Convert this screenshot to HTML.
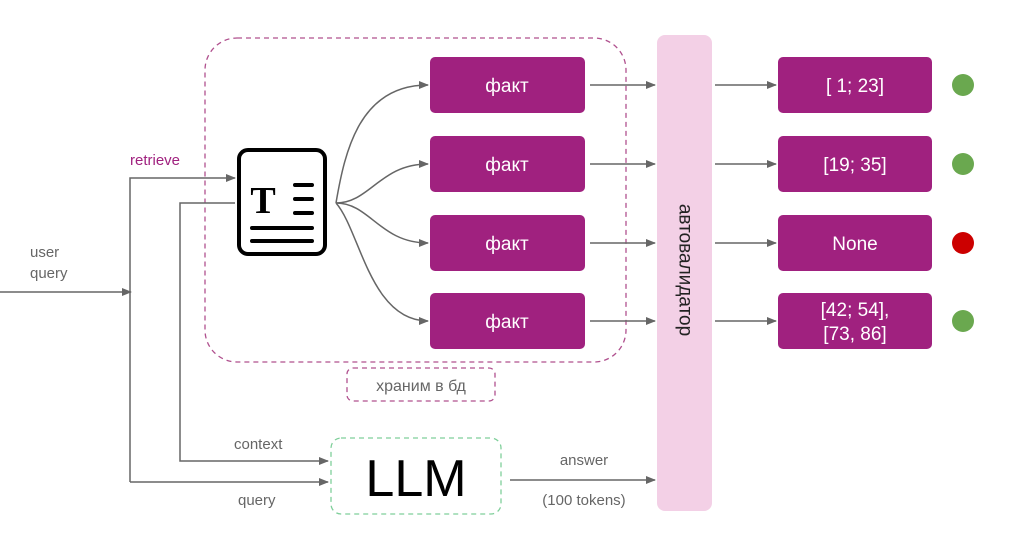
<!DOCTYPE html>
<html><head><meta charset="utf-8"><style>
body{margin:0;background:#fff;width:1028px;height:554px;overflow:hidden;font-family:"Liberation Sans","DejaVu Sans",sans-serif}
</style></head><body>
<svg width="1028" height="554" viewBox="0 0 1028 554" xmlns="http://www.w3.org/2000/svg">
<defs><marker id="a" markerWidth="10" markerHeight="8" refX="9" refY="4" orient="auto" markerUnits="userSpaceOnUse"><path d="M0,0 L10,4 L0,8z" fill="#666"/></marker></defs>
<rect x="205" y="38" width="421" height="324" rx="32" fill="none" stroke="#b0508e" stroke-width="1.3" stroke-dasharray="5,4"/>
<rect x="347" y="368" width="148" height="33" rx="6" fill="none" stroke="#b0508e" stroke-width="1.3" stroke-dasharray="5,4"/>
<text x="421" y="391" font-size="16" fill="#666" text-anchor="middle">храним в бд</text>
<rect x="657" y="35" width="55" height="476" rx="8" fill="#f3d0e6"/>
<text x="684.5" y="270" font-size="19" fill="#222" text-anchor="middle" transform="rotate(90 684.5 270)" dominant-baseline="middle">автовалидатор</text>
<g fill="#a0217f">
<rect x="430" y="57" width="155" height="56" rx="5"/><rect x="430" y="136" width="155" height="56" rx="5"/><rect x="430" y="215" width="155" height="56" rx="5"/><rect x="430" y="293" width="155" height="56" rx="5"/>
<rect x="778" y="57" width="154" height="56" rx="5"/><rect x="778" y="136" width="154" height="56" rx="5"/><rect x="778" y="215" width="154" height="56" rx="5"/><rect x="778" y="293" width="154" height="56" rx="5"/>
</g>
<g fill="#fff" font-size="19" text-anchor="middle">
<text x="507" y="92">факт</text><text x="507" y="171">факт</text><text x="507" y="250">факт</text><text x="507" y="328">факт</text>
<text x="855" y="92">[ 1;  23]</text><text x="855" y="171">[19; 35]</text><text x="855" y="250">None</text>
<text x="855" y="316">[42; 54],</text><text x="855" y="340">[73, 86]</text>
</g>
<circle cx="963" cy="85" r="11" fill="#6aa84f"/><circle cx="963" cy="164" r="11" fill="#6aa84f"/><circle cx="963" cy="243" r="11" fill="#cc0000"/><circle cx="963" cy="321" r="11" fill="#6aa84f"/>
<g stroke="#666" stroke-width="1.5" fill="none" marker-end="url(#a)">
<path d="M590 85H655"/><path d="M590 164H655"/><path d="M590 243H655"/><path d="M590 321H655"/>
<path d="M715 85H776"/><path d="M715 164H776"/><path d="M715 243H776"/><path d="M715 321H776"/>
<path d="M336 203C345 150,360 85,428 85"/><path d="M336 203C370 203,380 164,428 164"/><path d="M336 203C370 203,380 243,428 243"/><path d="M336 203C360 230,370 321,428 321"/>
<path d="M0 292H131"/><path d="M130 482V178H235"/><path d="M235 203H180V461H328"/><path d="M130 482H328"/>
<path d="M510 480H655"/>
</g>
<rect x="239" y="150" width="86" height="104" rx="9" fill="#fff" stroke="#000" stroke-width="4"/>
<text x="263" y="213" font-size="38" font-family="Liberation Serif,serif" font-weight="bold" text-anchor="middle">T</text>
<g stroke="#000" stroke-width="4" stroke-linecap="round"><path d="M295 185H312M295 199H312M295 213H312M252 228H312M252 241H312"/></g>
<text x="130" y="165" font-size="15" fill="#a0217f">retrieve</text>
<text x="30" y="257" font-size="15" fill="#666">user</text><text x="30" y="278" font-size="15" fill="#666">query</text>
<text x="234" y="449" font-size="15" fill="#666">context</text>
<text x="238" y="505" font-size="15" fill="#666">query</text>
<rect x="331" y="438" width="170" height="76" rx="10" fill="none" stroke="#7fcf9a" stroke-width="1.3" stroke-dasharray="5,4"/>
<text x="416" y="496" font-size="52" text-anchor="middle" fill="#000">LLM</text>
<text x="584" y="465" font-size="15" fill="#666" text-anchor="middle">answer</text>
<text x="584" y="505" font-size="15" fill="#666" text-anchor="middle">(100 tokens)</text>
</svg>
</body></html>
